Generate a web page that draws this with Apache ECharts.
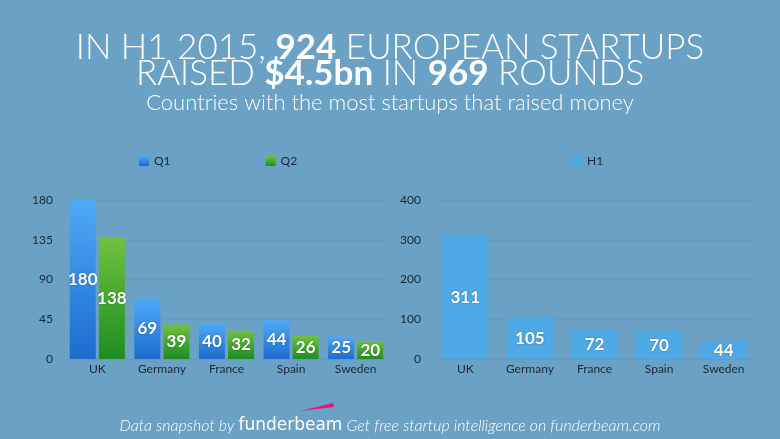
<!DOCTYPE html>
<html>
<head>
<meta charset="utf-8">
<script src="https://cdn.jsdelivr.net/npm/echarts@6/dist/echarts.min.js"></script>
<style>
  html, body { margin: 0; padding: 0; background: #6aa1c4; }
  #chart { width: 780px; height: 439px; }
</style>
</head>
<body>
<div id="chart"></div>
<script>
  const countries = ['UK', 'Germany', 'France', 'Spain', 'Sweden'];
  const q1 = [180, 69, 40, 44, 25];
  const q2 = [138, 39, 32, 26, 20];
  const h1 = [311, 105, 72, 70, 44];

  const font = 'Lato, "Open Sans", sans-serif';
  const chart = echarts.init(document.getElementById('chart'));

  const grad = (top, bottom) => new echarts.graphic.LinearGradient(0, 0, 0, 1, [
    { offset: 0, color: top }, { offset: 1, color: bottom }
  ]);

  const catAxis = (gridIndex) => ({
    type: 'category',
    gridIndex: gridIndex,
    data: countries,
    axisLine: { show: false },
    axisTick: { show: false },
    axisLabel: { color: '#1b2733', fontSize: 12, fontFamily: font, margin: 4 }
  });
  const valAxis = (gridIndex, max, interval) => ({
    type: 'value',
    gridIndex: gridIndex,
    min: 0,
    max: max,
    interval: interval,
    axisLine: { show: false },
    axisTick: { show: false },
    splitLine: { lineStyle: { color: 'rgba(40,70,100,0.06)', width: 1 } },
    axisLabel: { color: '#1b2733', fontSize: 12, fontFamily: font, margin: 12 }
  });
  const valueLabel = {
    show: true,
    position: 'inside',
    color: '#fff',
    fontSize: 17,
    fontWeight: 'bold',
    fontFamily: font,
    textShadowColor: 'rgba(0,0,0,0.3)',
    textShadowBlur: 2
  };
  const rich = {
    l: { color: '#fff', fontSize: 35, fontWeight: 300, fontFamily: font },
    b: { color: '#fff', fontSize: 35, fontWeight: 'bold', fontFamily: font }
  };

  chart.setOption({
    backgroundColor: '#6aa1c4',
    animation: false,
    title: [{
      left: 'center',
      top: 25,
      text: '{l|IN H1 2015, }{b|924}{l| EUROPEAN STARTUPS}',
      textStyle: { rich: rich }
    }, {
      left: 'center',
      top: 51,
      text: '{l|RAISED }{b|$4.5bn}{l| IN }{b|969}{l| ROUNDS}',
      textStyle: { rich: rich }
    }, {
      left: 'center',
      top: 87,
      text: 'Countries with the most startups that raised money',
      textStyle: { color: '#fff', fontSize: 22, fontWeight: 300, fontFamily: font }
    }, {
      left: 'center',
      top: 412,
      text: '{i|Data snapshot by }{f|funderbeam}{i| Get free startup intelligence on funderbeam.com}',
      textStyle: {
        rich: {
          i: { color: '#fff', fontSize: 16, fontStyle: 'italic', fontWeight: 300, fontFamily: font },
          f: { color: '#fff', fontSize: 17, fontWeight: 'normal', fontFamily: '"DejaVu Sans", sans-serif' }
        }
      }
    }],
    legend: [{
      left: 134,
      top: 150,
      itemWidth: 10,
      itemHeight: 10,
      itemGap: 95,
      icon: 'rect',
      textStyle: { color: '#1b2733', fontSize: 12, fontFamily: font },
      data: ['Q1', 'Q2']
    }, {
      left: 567,
      top: 150,
      itemWidth: 10,
      itemHeight: 10,
      icon: 'rect',
      textStyle: { color: '#1b2733', fontSize: 12, fontFamily: font },
      data: ['H1']
    }],
    grid: [
      { left: 65, right: 392, top: 200, bottom: 80 },
      { left: 433, right: 24, top: 200, bottom: 80 }
    ],
    xAxis: [catAxis(0), catAxis(1)],
    yAxis: [valAxis(0, 180, 45), valAxis(1, 400, 100)],
    series: [{
      name: 'Q1',
      type: 'bar',
      xAxisIndex: 0,
      yAxisIndex: 0,
      data: q1,
      barWidth: 26,
      barGap: '12%',
      itemStyle: { color: grad('#4eaaf7', '#1c6bce') },
      label: valueLabel
    }, {
      name: 'Q2',
      type: 'bar',
      xAxisIndex: 0,
      yAxisIndex: 0,
      data: q2,
      barWidth: 26,
      barGap: '12%',
      itemStyle: { color: grad('#70c23e', '#1d8d22') },
      label: valueLabel
    }, {
      name: 'H1',
      type: 'bar',
      xAxisIndex: 1,
      yAxisIndex: 1,
      data: h1,
      barWidth: 46,
      itemStyle: { color: '#4ea9e7' },
      label: valueLabel
    }],
    graphic: [{
      type: 'polygon',
      shape: { points: [[300, 411], [333, 403], [334, 407]] },
      style: { fill: '#e8157a' }
    }]
  });
</script>
</body>
</html>
